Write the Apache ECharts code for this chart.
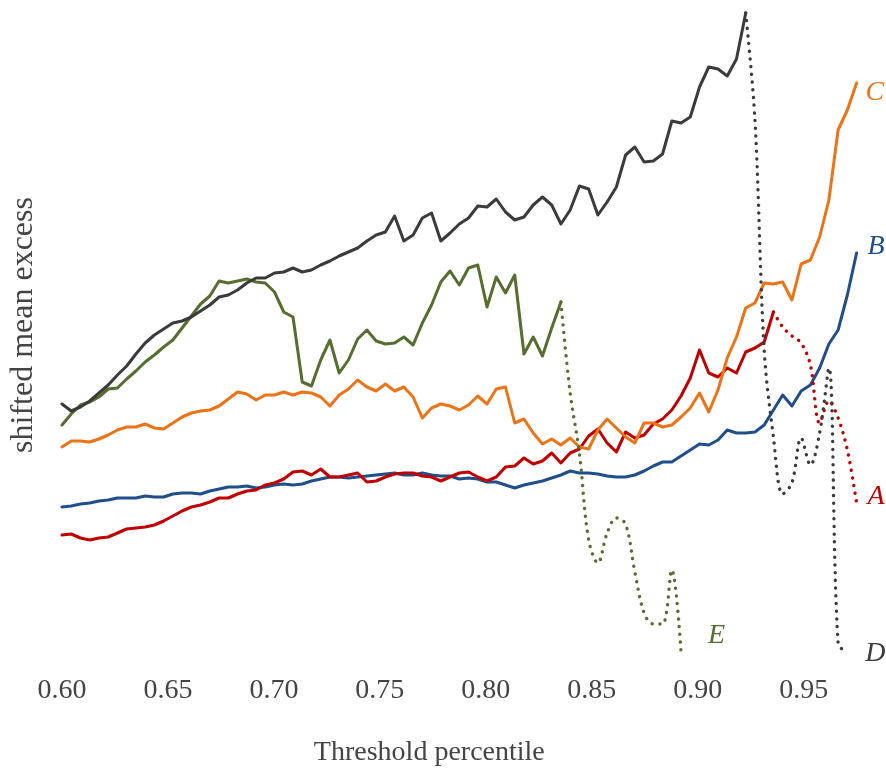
<!DOCTYPE html>
<html>
<head>
<meta charset="utf-8">
<script src="https://cdn.jsdelivr.net/npm/echarts@6/dist/echarts.min.js"></script>
<style>
  html, body { margin: 0; padding: 0; background: #ffffff; }
  #chart { width: 886px; height: 772px; }
</style>
</head>
<body>
<div id="chart"></div>
<script>
// Threshold percentiles: 87 evenly spaced thresholds from 0.60 to 0.975
const thresholds = Array.from({ length: 87 }, (_, i) => 0.6 + (i * 0.375) / 86);
const xTicks = [0.60, 0.65, 0.70, 0.75, 0.80, 0.85, 0.90, 0.95];

// Series A: solid from index 0, dotted tail from index 77
const aSolid = [1.20,1.21,1.17,1.15,1.17,1.18,1.22,1.26,1.27,1.28,
  1.30,1.34,1.39,1.44,1.48,1.50,1.53,1.57,1.57,1.61,
  1.64,1.65,1.70,1.72,1.76,1.83,1.84,1.80,1.86,1.78,
  1.78,1.80,1.82,1.73,1.74,1.78,1.81,1.82,1.82,1.79,
  1.78,1.74,1.78,1.82,1.83,1.78,1.74,1.78,1.88,1.89,
  1.97,1.91,1.94,2.02,1.92,2.02,2.06,2.19,2.26,2.12,
  2.03,2.23,2.17,2.20,2.31,2.36,2.45,2.59,2.77,3.05,
  2.82,2.78,2.87,2.82,3.03,3.07,3.13,3.43];
const aDotted = [3.43,3.28,3.19,3.12,2.90,2.32,2.54,2.37,2.05,1.52];

// Series B: solid over the full range
const bSolid = [1.48,1.49,1.51,1.52,1.54,1.55,1.57,1.57,1.57,1.59,
  1.58,1.58,1.61,1.62,1.62,1.61,1.64,1.66,1.68,1.68,
  1.69,1.67,1.68,1.70,1.71,1.70,1.71,1.74,1.76,1.78,
  1.78,1.77,1.78,1.79,1.80,1.81,1.82,1.80,1.80,1.82,
  1.80,1.79,1.79,1.76,1.77,1.76,1.73,1.73,1.70,1.67,
  1.70,1.72,1.74,1.77,1.80,1.84,1.82,1.82,1.81,1.79,
  1.78,1.78,1.80,1.84,1.89,1.93,1.93,1.99,2.05,2.11,
  2.10,2.15,2.25,2.22,2.22,2.23,2.30,2.45,2.60,2.49,
  2.64,2.70,2.87,3.11,3.25,3.60,4.02];

// Series C: solid over the full range
const cSolid = [2.08,2.14,2.14,2.13,2.16,2.20,2.25,2.28,2.28,2.31,
  2.27,2.26,2.32,2.38,2.42,2.44,2.45,2.49,2.56,2.63,
  2.61,2.55,2.60,2.60,2.63,2.60,2.63,2.62,2.58,2.49,
  2.60,2.66,2.75,2.68,2.64,2.71,2.64,2.68,2.58,2.37,
  2.47,2.51,2.49,2.45,2.50,2.59,2.51,2.66,2.68,2.32,
  2.36,2.22,2.11,2.16,2.10,2.17,2.08,2.06,2.25,2.36,
  2.27,2.18,2.12,2.32,2.32,2.28,2.30,2.38,2.47,2.62,
  2.43,2.65,2.97,3.18,3.47,3.52,3.72,3.71,3.73,3.55,
  3.91,3.95,4.18,4.55,5.25,5.45,5.72];

// Series D: solid from index 0, dotted tail from index 74
const dSolid = [2.51,2.44,2.48,2.54,2.62,2.70,2.80,2.89,3.01,3.12,
  3.20,3.26,3.32,3.34,3.38,3.44,3.50,3.58,3.60,3.65,
  3.72,3.77,3.77,3.82,3.83,3.87,3.83,3.85,3.90,3.94,
  3.99,4.03,4.07,4.14,4.20,4.23,4.39,4.14,4.20,4.37,
  4.42,4.14,4.22,4.31,4.37,4.49,4.48,4.56,4.43,4.35,
  4.38,4.50,4.58,4.50,4.31,4.45,4.69,4.66,4.40,4.53,
  4.68,5.00,5.08,4.93,4.94,5.01,5.34,5.32,5.38,5.68,
  5.88,5.86,5.79,5.96,6.42];
const dDotted = [6.42,5.35,3.05,2.18,1.61,1.72,2.17,1.90,2.22,2.87,0.12,0.02];

// Series E: solid from index 0, dotted tail from index 54
const eSolid = [2.30,2.41,2.50,2.53,2.58,2.66,2.67,2.76,2.84,2.93,
  3.00,3.08,3.15,3.27,3.39,3.51,3.59,3.74,3.72,3.74,
  3.76,3.73,3.72,3.63,3.43,3.38,2.73,2.69,2.95,3.15,
  2.82,2.95,3.16,3.25,3.14,3.11,3.12,3.18,3.10,3.32,
  3.50,3.73,3.84,3.70,3.87,3.90,3.48,3.78,3.62,3.80,
  3.01,3.18,2.99,3.27,3.53];
const eDotted = [3.53,2.62,2.02,1.15,0.92,1.22,1.37,1.31,0.83,0.42,0.31,0.31,0.85,0.03];

const colors = { A: '#c00000', B: '#1f4e8a', C: '#ec7316', D: '#3b3b3b', E: '#576d30' };
const SERIF = "'Liberation Serif', 'DejaVu Serif', serif";

// pair values with their thresholds, starting at a given threshold index
function pairs(start, values) {
  return values.map((v, k) => [thresholds[start + k], v]);
}

function solid(name, start, values, label) {
  const s = {
    name: name, type: 'line', data: pairs(start, values),
    showSymbol: false, symbol: 'none', silent: true,
    lineStyle: { color: colors[name], width: 3, join: 'round', cap: 'round' },
    itemStyle: { color: colors[name] }
  };
  if (label) s.endLabel = label;
  return s;
}

function dotted(name, start, values, label) {
  const s = {
    name: name + ' (tail)', type: 'line', data: pairs(start, values),
    smooth: 0.35, showSymbol: false, symbol: 'none', silent: true,
    lineStyle: { color: colors[name], width: 3.4, type: [0.1, 7.6], cap: 'round' },
    itemStyle: { color: colors[name] }
  };
  if (label) s.endLabel = label;
  return s;
}

function endLabel(name, offset) {
  return {
    show: true, formatter: name, color: colors[name],
    fontFamily: SERIF, fontStyle: 'italic', fontSize: 28,
    offset: offset
  };
}

const chart = echarts.init(document.getElementById('chart'), null, { renderer: 'canvas' });
chart.setOption({
  animation: false,
  backgroundColor: '#ffffff',
  grid: { left: 57, right: 29.4, top: 5, bottom: 117, containLabel: false },
  xAxis: {
    type: 'value', min: 0.6, max: 0.975, interval: 0.05,
    name: 'Threshold percentile', nameLocation: 'middle', nameGap: 84,
    nameTextStyle: { fontFamily: SERIF, fontSize: 28, color: '#444444', padding: [0, 60, 0, 0] },
    axisLine: { show: false }, axisTick: { show: false }, splitLine: { show: false },
    axisLabel: {
      fontFamily: SERIF, fontSize: 28, color: '#444444', margin: 22,
      showMaxLabel: false,
      formatter: v => (xTicks.some(t => Math.abs(t - v) < 1e-6) ? v.toFixed(2) : '')
    }
  },
  yAxis: {
    type: 'value', min: 0, max: 6.5,
    name: 'shifted mean excess', nameLocation: 'middle', nameRotate: 90, nameGap: 22,
    nameTextStyle: { fontFamily: SERIF, fontSize: 32, color: '#444444', padding: [0, 0, 0, 10] },
    axisLine: { show: false }, axisTick: { show: false }, splitLine: { show: false },
    axisLabel: { show: false }
  },
  series: [
    solid('B', 0, bSolid, endLabel('B', [3, -6])),
    solid('A', 0, aSolid),
    dotted('A', 77, aDotted, endLabel('A', [3, -6])),
    solid('C', 0, cSolid, endLabel('C', [1, 10])),
    solid('E', 0, eSolid),
    dotted('E', 54, eDotted, endLabel('E', [19, -16])),
    solid('D', 0, dSolid),
    dotted('D', 74, dDotted, endLabel('D', [10, 1]))
  ]
});
</script>
</body>
</html>
